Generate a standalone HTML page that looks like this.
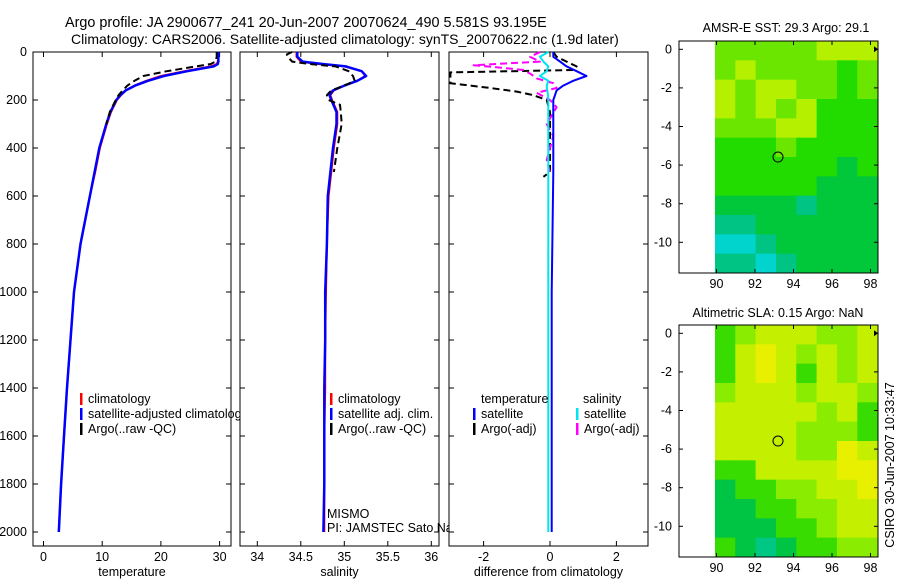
<!DOCTYPE html>
<html><head><meta charset="utf-8"><style>
body{margin:0;background:#fff;}
svg{display:block;font-family:"Liberation Sans",sans-serif;}
</style></head><body>
<svg id="c" width="900" height="580">
<text x="65" y="27" font-size="14.4">Argo profile: JA 2900677_241 20-Jun-2007 20070624_490 5.581S 93.195E</text>
<text x="71" y="44" font-size="14">Climatology: CARS2006. Satellite-adjusted climatology: synTS_20070622.nc (1.9d later)</text>
<text x="786" y="32" font-size="12.5" text-anchor="middle">AMSR-E SST: 29.3 Argo: 29.1</text>
<text x="778" y="317" font-size="12.5" text-anchor="middle">Altimetric SLA: 0.15 Argo: NaN</text>
<text transform="translate(894,465) rotate(-90)" font-size="12.5" text-anchor="middle">CSIRO 30-Jun-2007 10:33:47</text>
</svg>
<script>
const depths = [0,20,40,50,60,80,100,120,140,160,180,200,250,300,400,500,600,800,1000,1200,1400,1600,1800,2000];
const tempClim = [29.8,29.8,29.7,29.5,28.5,24,20,17.5,15.5,14,13.2,12.5,11.5,10.8,9.6,8.8,7.9,6.3,5.2,4.6,4.0,3.5,3.0,2.6];
const tempSat = [29.8,29.8,29.8,29.7,29,24.5,20.5,17.8,15.6,14,13.1,12.4,11.4,10.7,9.5,8.7,7.9,6.3,5.2,4.6,4.0,3.5,3.0,2.6];
const argoDepths = [0,20,40,50,60,80,100,120,140,160,180,200,250,300];
const tempArgo = [29.5,29.5,29.3,28.5,26,21,17,15.5,14.3,13.5,12.8,12.3,11.3,10.7];
const salClim = [34.45,34.45,34.5,34.7,35.0,35.2,35.24,35.15,35.0,34.88,34.84,34.86,34.92,34.92,34.88,34.85,34.82,34.8,34.79,34.78,34.78,34.77,34.77,34.77];
const salSat = [34.46,34.46,34.52,34.75,35.02,35.2,35.25,35.15,35.0,34.87,34.83,34.85,34.91,34.91,34.87,34.84,34.81,34.8,34.78,34.78,34.77,34.77,34.77,34.76];
const salArgoDepths = [0,10,20,40,50,60,80,100,120,140,160,180,200,220,250,300,400,500];
const salArgo = [34.4,34.34,34.35,34.4,34.6,34.9,35.05,35.1,35.12,35.0,34.85,34.8,34.82,34.95,34.96,34.97,34.92,34.88];
const diffDepths = [0,20,40,60,80,100,120,140,160,180,200,300,500,1000,2000];
const diffTSat = [0.1,0.1,0.3,0.5,0.8,1.1,0.7,0.4,0.2,0.15,0.1,0.1,0.1,0.05,0.05];
const diffSSat = [-0.05,-0.3,-0.2,-0.05,-0.1,-0.3,-0.05,-0.1,-0.08,-0.06,-0.05,-0.05,-0.05,-0.05,-0.05];
const dArgoTDepths = [0,20,40,60,75,85,100,130,150,165,180,200,250,300,400,500,520];
const dArgoT = [0.1,0.2,0.5,0.8,0.7,-3.5,-3.5,-3.5,-1.8,-1.0,-0.5,-0.1,0,0,0,0,-0.2];
const dArgoSDepths = [0,20,40,55,65,75,90,110,130,150,170,200,230,300,350,400,450,500];
const dArgoS = [-0.3,-0.6,-0.3,-2.3,-1.5,-0.8,-0.6,-0.4,0.1,0.2,-0.4,0.0,0.2,-0.1,0.1,0.0,-0.1,0.0];
const depthTicks = [0,200,400,600,800,1000,1200,1400,1600,1800,2000];
const tempTicks = [0,10,20,30];
const salTicks = [34,34.5,35,35.5,36];
const diffTicks = [-2,0,2];
const latTicks = [0,-2,-4,-6,-8,-10];
const lonTicks = [90,92,94,96,98];
const sstPalette = ['#b4f000','#6ae600','#22dc00','#00c83a','#00c484','#00d4cc'];
const sstGrid = [
[2,2,2,2,2,1,1,1],[2,1,2,2,2,2,3,2],[1,2,1,1,2,2,3,2],[1,2,1,2,1,3,3,3],
[2,2,2,1,1,3,3,3],[3,3,3,2,3,3,3,3],[3,3,3,3,3,3,4,3],[3,3,3,3,3,4,4,4],
[4,4,4,4,5,4,4,4],[5,5,4,4,4,4,4,4],[6,6,5,4,4,4,4,4],[5,5,6,5,4,4,4,4]];
const slaPalette = ['#e8f000','#c4f000','#8aec00','#38dc00','#00c444','#00c884'];
const slaGrid = [
[4,3,2,2,2,3,3,2],[4,2,1,2,3,2,3,2],[4,2,1,2,4,2,3,2],[3,2,2,2,3,2,2,3],
[2,2,2,2,2,3,2,4],[2,2,2,2,3,3,3,4],[2,2,2,2,3,3,1,2],[4,4,2,2,2,2,1,1],
[5,4,4,3,3,2,2,1],[5,5,4,4,3,3,2,2],[5,5,5,4,4,3,2,2],[4,5,6,5,4,4,3,3]];
const argoLon = 93.195, argoLat = -5.581;

const svg = document.getElementById('c');
const NS = 'http://www.w3.org/2000/svg';
function mk(tag, attrs, parent){const e=document.createElementNS(NS,tag);for(const k in attrs)e.setAttribute(k,attrs[k]);(parent||svg).appendChild(e);return e;}
const yD = d => 52 + d*0.24;

function panel(name, x0, x1, xScale, ticks, label, fmt){
  const g = mk('g',{});
  
  
  const top=52, bot=546;
  mk('rect',{x:x0,y:top,width:x1-x0,height:bot-top,fill:'#fff',stroke:'#000','stroke-width':1},g);
  depthTicks.forEach(d=>{
    const y=yD(d);
    mk('line',{x1:x0,y1:y,x2:x0+5,y2:y,stroke:'#000'},g);
    mk('line',{x1:x1,y1:y,x2:x1-5,y2:y,stroke:'#000'},g);
  });
  ticks.forEach(t=>{
    const x=xScale(t);
    mk('line',{x1:x,y1:bot,x2:x,y2:bot-5,stroke:'#000'},g);
    mk('line',{x1:x,y1:top,x2:x,y2:top+5,stroke:'#000'},g);
    const tx=mk('text',{x:x,y:bot+15,'font-size':12.5,'text-anchor':'middle'},g);
    tx.textContent=fmt(t);
    
    
  });
  const lb=mk('text',{x:(x0+x1)/2,y:bot+30,'font-size':12.5,'text-anchor':'middle'},g);
  lb.textContent=label;
  
  
  return g;
}
function line(g, ds, vs, xScale, color, w, dash, name){
  const pts = ds.map((d,i)=>xScale(vs[i]).toFixed(1)+','+yD(d).toFixed(1)).join(' ');
  const p = mk('polyline',{points:pts,fill:'none',stroke:color,'stroke-width':w,'stroke-dasharray':dash||'none','stroke-linejoin':'round'},g);
  
  
}
function legend(g, x, y, color, text){
  mk('rect',{x:x,y:y-10,width:2.5,height:12,fill:color},g);
  const t=mk('text',{x:x+8,y:y,'font-size':12.5},g);
  t.textContent=text;
  
  
}

depthTicks.forEach(d=>{
  const t=mk('text',{x:27,y:yD(d)+4,'font-size':12.5,'text-anchor':'end'});
  t.textContent=d;
  
  
});

const xT = v => 43.5 + v*5.87;
const gT = panel('temperature-panel',33,231,xT,tempTicks,'temperature',t=>t);
line(gT, depths, tempClim, xT, '#ff0000', 2, null, 'temp-climatology-line');
line(gT, depths, tempSat, xT, '#0000ff', 2.5, null, 'temp-satellite-line');
line(gT, argoDepths, tempArgo, xT, '#000', 2, '7,4', 'temp-argo-line');
legend(gT,80,403,'#ff0000','climatology');
legend(gT,80,418,'#0000ff','satellite-adjusted climatology');
legend(gT,80,433,'#000','Argo(..raw -QC)');

const xS = v => 257.3 + (v-34)*87;
const gS = panel('salinity-panel',240,439,xS,salTicks,'salinity',t=>t);
line(gS, depths, salClim, xS, '#ff0000', 2, null, 'sal-climatology-line');
line(gS, depths, salSat, xS, '#0000ff', 2.5, null, 'sal-satellite-line');
line(gS, salArgoDepths, salArgo, xS, '#000', 2, '7,4', 'sal-argo-line');
legend(gS,330,403,'#ff0000','climatology');
legend(gS,330,418,'#0000ff','satellite adj. clim.');
legend(gS,330,433,'#000','Argo(..raw -QC)');
const m1=mk('text',{x:327,y:518,'font-size':12.5},gS); m1.textContent='MISMO';


const m2=mk('text',{x:327,y:532,'font-size':12.5},gS); m2.textContent='PI: JAMSTEC Sato Naoki';



const xDf = v => 550 + v*33.2;
const gD = panel('difference-panel',449,648,xDf,diffTicks,'difference from climatology',t=>t===-2?'-2':t);
line(gD, dArgoTDepths, dArgoT.map(v=>Math.max(v,-3.0)), xDf, '#000', 2, '7,4', 'temp-argo-diff-line');
line(gD, dArgoSDepths, dArgoS, xDf, '#ff00ff', 2, '7,4', 'sal-argo-diff-line');
line(gD, diffDepths, diffTSat, xDf, '#0000ff', 2, null, 'temp-satellite-diff-line');
line(gD, diffDepths, diffSSat, xDf, '#00e5ee', 2, null, 'sal-satellite-diff-line');
const lt=mk('text',{x:481,y:403,'font-size':12.5},gD); lt.textContent='temperature';


const ls=mk('text',{x:583,y:403,'font-size':12.5},gD); ls.textContent='salinity';


legend(gD,473,418,'#0000ff','satellite');
legend(gD,473,433,'#000','Argo(-adj)');
legend(gD,576,418,'#00e5ee','satellite');
legend(gD,576,433,'#ff00ff','Argo(-adj)');

function map(name, top, bot, lat0y, grid, palette){
  const g = mk('g',{});
  
  
  const x0=679, x1=878;
  const xL = lon => 716.5 + (lon-90)*19.25;
  const yL = lat => lat0y - lat*19.3;
  mk('rect',{x:x0,y:top,width:x1-x0,height:bot-top,fill:'#fff'},g);
  const lonStart=89.92, lonStep=(98.37-89.92)/8;
  const latTop = (lat0y-top)/19.3, latStep = (latTop + (bot-lat0y)/19.3)/12;
  grid.forEach((row,r)=>row.forEach((v,c)=>{
    const xa=xL(lonStart+c*lonStep), xb=xL(lonStart+(c+1)*lonStep);
    const ya=yL(latTop-r*latStep), yb=yL(latTop-(r+1)*latStep);
    const cell=mk('rect',{x:xa,y:ya,width:xb-xa+0.5,height:yb-ya+0.5,fill:palette[v-1]},g);
    
    
  }));
  mk('rect',{x:x0,y:top,width:x1-x0,height:bot-top,fill:'none',stroke:'#000'},g);
  latTicks.forEach(l=>{
    const y=yL(l);
    mk('line',{x1:x0,y1:y,x2:x0+4,y2:y,stroke:'#000'},g);
    mk('line',{x1:x1,y1:y,x2:x1-4,y2:y,stroke:'#000'},g);
    const t=mk('text',{x:x0-7,y:y+4,'font-size':12.5,'text-anchor':'end'},g);
    t.textContent=l;
    
    
  });
  lonTicks.forEach(l=>{
    const x=xL(l);
    mk('line',{x1:x,y1:bot,x2:x,y2:bot-4,stroke:'#000'},g);
    mk('line',{x1:x,y1:top,x2:x,y2:top+4,stroke:'#000'},g);
    const t=mk('text',{x:x,y:bot+15,'font-size':12.5,'text-anchor':'middle'},g);
    t.textContent=l;
    
    
  });
  const c=mk('circle',{cx:xL(argoLon),cy:yL(argoLat),r:5,fill:'none',stroke:'#000','stroke-width':1},g);
  
  
  mk('path',{d:`M${x1-4},${yL(0)-3} L${x1},${yL(0)} L${x1-4},${yL(0)+3}Z`,fill:'#000'},g);
}
map('sst-map',41,273,49.3,sstGrid,sstPalette);
map('sla-map',325,557,333.3,slaGrid,slaPalette);
</script>
</body></html>
